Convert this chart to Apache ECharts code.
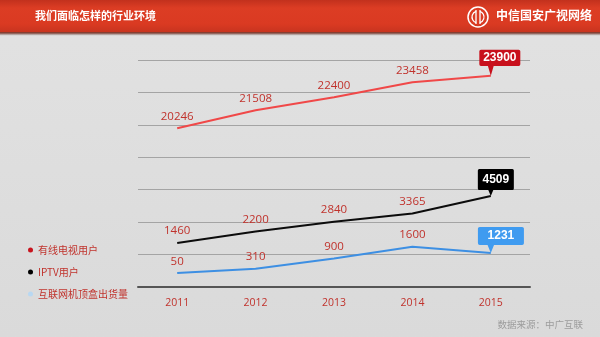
<!DOCTYPE html>
<html>
<head>
<meta charset="utf-8">
<script src="https://cdn.jsdelivr.net/npm/echarts@6/dist/echarts.min.js"></script>
<style>html,body{margin:0;padding:0;}#c{width:600px;height:337px;}</style>
</head>
<body>
<div id="c"></div>
<script>
var categories = ['2011', '2012', '2013', '2014', '2015'];
var seriesNames = ['有线电视用户', 'IPTV用户', '互联网机顶盒出货量'];
var cableUsers = [20246, 21508, 22400, 23458, 23900];
var iptvUsers = [1460, 2200, 2840, 3365, 4509];
var ottBoxes = [50, 310, 900, 1600, 1231];
var titleText = '我们面临怎样的行业环境';
var brandText = '中信国安广视网络';
var sourceText = '数据来源：中广互联';

var FONT = '"Noto Sans CJK SC", "Noto Sans", sans-serif';
var NUMFONT = '"Open Sans", "Noto Sans CJK SC", sans-serif';
var LABEL_RED = '#c0322c';

function calloutPath(rectPct, tipPct) {
  var r = rectPct, t = tipPct;
  return 'path://M4,0 H96 Q100,0 100,6 V' + (r - 6) + ' Q100,' + r + ' 96,' + r +
    ' H' + (t + 7) + ' L' + t + ',100 L' + (t - 7) + ',' + r +
    ' H4 Q0,' + r + ' 0,' + (r - 6) + ' V6 Q0,0 4,0 Z';
}

function makeSeries(name, values, axisIdx, color, cfg) {
  var last = values.length - 1;
  var data = values.map(function (v, i) {
    return i === last ? { value: v, label: { show: false } } : v;
  });
  var W = cfg.w, H = cfg.h, R = cfg.rect, t = cfg.tip;
  return {
    name: name,
    type: 'line',
    yAxisIndex: axisIdx,
    data: data,
    symbol: 'circle',
    symbolSize: 0.1,
    showSymbol: true,
    lineStyle: { color: color, width: 2 },
    itemStyle: { color: color },
    label: {
      show: true, position: 'top', distance: 6,
      color: LABEL_RED, fontSize: 11.5, fontFamily: NUMFONT
    },
    emphasis: { disabled: true },
    markPoint: {
      silent: true,
      animation: false,
      symbol: calloutPath(Math.round(R / H * 100), Math.round(t * 100)),
      symbolKeepAspect: false,
      symbolSize: [W, H],
      symbolOffset: [(0.5 - t) * W, -0.5 * H],
      itemStyle: { color: cfg.bg },
      label: {
        show: true, position: 'inside', color: '#fff', fontWeight: 'bold',
        fontSize: 12, fontFamily: '"Liberation Sans", Arial, sans-serif', offset: [0, R / 2 - H / 2],
        formatter: function (p) { return p.value; }
      },
      data: [{ coord: [categories[last], values[last]], value: values[last] }]
    }
  };
}

var chart = echarts.init(document.getElementById('c'), null, { renderer: 'canvas' });
chart.setOption({
  animation: false,
  backgroundColor: {
    type: 'linear', x: 0, y: 0, x2: 0, y2: 1,
    colorStops: [
      { offset: 0, color: '#e2e2e2' },
      { offset: 0.5, color: '#dedede' },
      { offset: 1, color: '#dadada' }
    ]
  },
  grid: { left: 138, right: 70, top: 60, bottom: 50 },
  legend: {
    orient: 'vertical', left: 23, top: 238,
    icon: 'circle', itemWidth: 5, itemHeight: 5, itemGap: 8,
    textStyle: { color: LABEL_RED, fontSize: 10, fontFamily: FONT, lineHeight: 14 },
    selectedMode: false,
    data: [
      { name: seriesNames[0], itemStyle: { color: '#c8141e' } },
      { name: seriesNames[1], itemStyle: { color: '#000000' } },
      { name: seriesNames[2], itemStyle: { color: '#b8d8f2' } }
    ]
  },
  xAxis: {
    type: 'category', data: categories, boundaryGap: true,
    axisLine: { lineStyle: { color: '#555', width: 2 } },
    axisTick: { show: false },
    axisLabel: { color: LABEL_RED, fontSize: 10.5, fontFamily: NUMFONT, margin: 11 },
    splitLine: { show: false }
  },
  yAxis: [
    {
      type: 'value', min: 0, max: 7, interval: 1,
      axisLine: { show: false }, axisTick: { show: false }, axisLabel: { show: false },
      splitLine: { show: true, lineStyle: { color: '#a4a4a4', width: 1 } }
    },
    { type: 'value', min: 9200, max: 25000, show: false, splitLine: { show: false } },
    { type: 'value', min: -1400, max: 13330, show: false, splitLine: { show: false } },
    { type: 'value', min: -770, max: 12580, show: false, splitLine: { show: false } }
  ],
  series: [
    makeSeries(seriesNames[0], cableUsers, 1, '#f04848', { w: 41, h: 26, rect: 16, tip: 0.28, bg: '#c8101c' }),
    makeSeries(seriesNames[1], iptvUsers, 2, '#0c0c0c', { w: 36, h: 27, rect: 21, tip: 0.36, bg: '#000000' }),
    makeSeries(seriesNames[2], ottBoxes, 3, '#3d8fe3', { w: 46, h: 26, rect: 18, tip: 0.28, bg: '#3f9bf0' })
  ],
  graphic: [
    {
      type: 'rect', left: 0, top: 0, z: 10, silent: true,
      shape: { width: 600, height: 32 },
      style: {
        fill: {
          type: 'linear', x: 0, y: 0, x2: 0, y2: 1,
          colorStops: [
            { offset: 0, color: '#c2311d' },
            { offset: 0.25, color: '#dc3d24' },
            { offset: 0.75, color: '#da3a22' },
            { offset: 1, color: '#c8341f' }
          ]
        }
      }
    },
    {
      type: 'rect', left: 0, top: 32, z: 10, silent: true,
      shape: { width: 600, height: 4 },
      style: {
        fill: {
          type: 'linear', x: 0, y: 0, x2: 0, y2: 1,
          colorStops: [
            { offset: 0, color: '#7e2a1c' },
            { offset: 0.5, color: '#9a7a74' },
            { offset: 1, color: 'rgba(200,200,200,0)' }
          ]
        }
      }
    },
    {
      type: 'text', left: 35, top: 10, z: 11, silent: true,
      style: { text: titleText, fill: '#ffffff', font: 'bold 11px ' + FONT }
    },
    {
      type: 'text', right: 8, top: 9, z: 11, silent: true,
      style: { text: brandText, fill: '#ffffff', font: 'bold 12px ' + FONT }
    },
    { type: 'circle', z: 12, silent: true, shape: { cx: 478, cy: 17, r: 10 }, style: { fill: 'none', stroke: '#fff', lineWidth: 1.5 } },
    { type: 'line', z: 12, silent: true, shape: { x1: 476, y1: 10, x2: 476, y2: 24 }, style: { stroke: '#fff', lineWidth: 1.3 } },
    { type: 'line', z: 12, silent: true, shape: { x1: 480, y1: 10, x2: 480, y2: 24 }, style: { stroke: '#fff', lineWidth: 1.3 } },
    { type: 'arc', z: 12, silent: true, shape: { cx: 478, cy: 17, r: 6, startAngle: Math.PI * 0.6, endAngle: Math.PI * 1.4 }, style: { fill: 'none', stroke: '#fff', lineWidth: 1.3 } },
    { type: 'arc', z: 12, silent: true, shape: { cx: 478, cy: 17, r: 6, startAngle: -Math.PI * 0.4, endAngle: Math.PI * 0.4 }, style: { fill: 'none', stroke: '#fff', lineWidth: 1.3 } },
    {
      type: 'text', right: 17, top: 320, z: 11, silent: true,
      style: { text: sourceText, fill: '#9c9c9c', font: '9.5px ' + FONT }
    }
  ]
});
</script>
</body>
</html>
